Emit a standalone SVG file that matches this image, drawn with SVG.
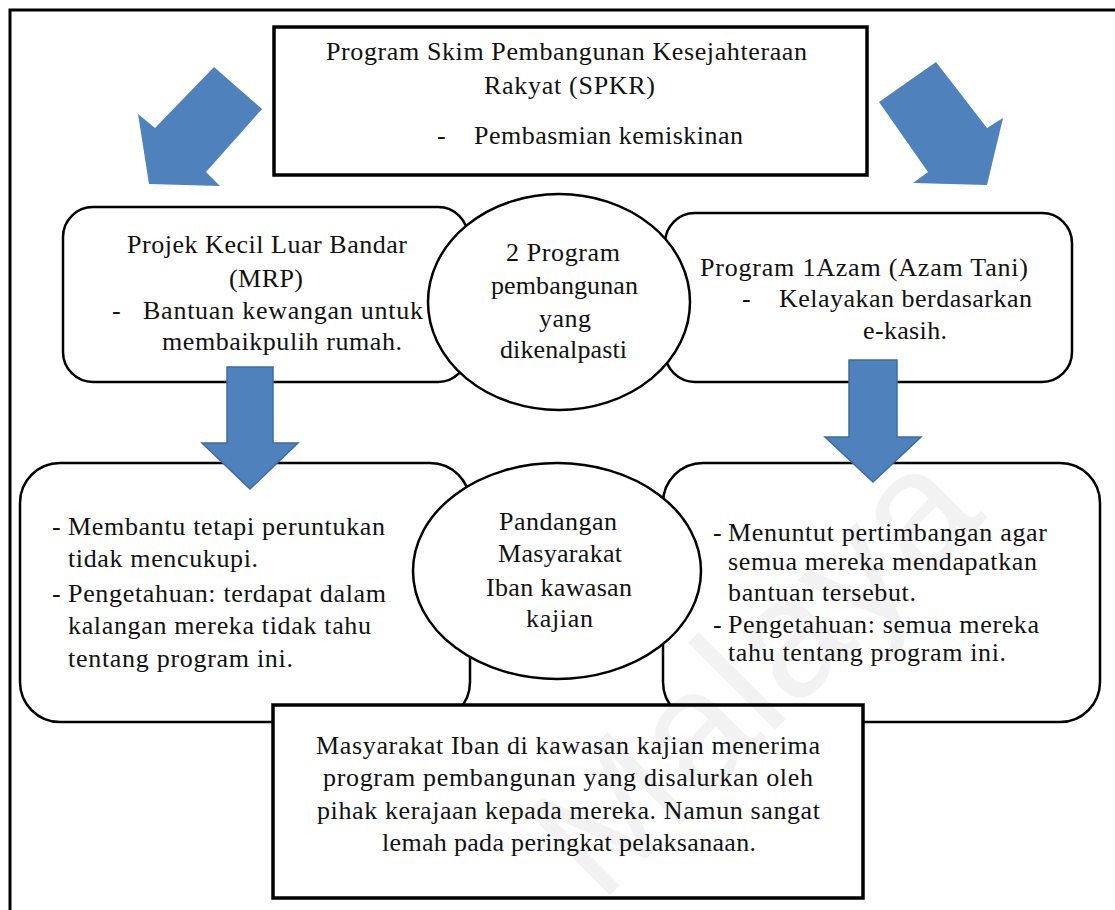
<svg xmlns="http://www.w3.org/2000/svg" width="1115" height="910" viewBox="0 0 1115 910">
<style>
.frame{fill:none;stroke:#000;stroke-width:3}
.box{fill:#fff;stroke:#000;stroke-width:3.5}
.rbox{fill:#fff;stroke:#000;stroke-width:2.5}
.ell{fill:#fff;stroke:#000;stroke-width:2.5}
.blk{fill:#4F81BD}
.darr{fill:#4F81BD;stroke:#3E6C9F;stroke-width:1.5}
.t{font-family:'Liberation Serif',serif;font-size:26px;fill:#111}
.wm{font-family:'Liberation Sans',sans-serif;font-size:170px;fill:#000;fill-opacity:0.05}
</style>
<rect width="1115" height="910" fill="#fff"/>
<g id="frame">
<path class="frame" d="M10,910 V10 H1115"/>
</g>
<g id="connectors">
<polygon class="blk" points="214,67 262,109 206,172 220,186 149,184 138,114 155,128"/>
<polygon class="blk" points="936,62 987,128 1003,118 987,185 913,183 928,172 879,102"/>
</g>
<g id="node-spkr" class="t" font-family="Liberation Serif, serif">
<rect class="box" x="274" y="27" width="593" height="148"/>
<text x="326" y="60" textLength="481" lengthAdjust="spacing">Program Skim Pembangunan Kesejahteraan</text>
<text x="484" y="94" textLength="171" lengthAdjust="spacing">Rakyat (SPKR)</text>
<text x="437" y="144">-</text>
<text x="474" y="144" textLength="269" lengthAdjust="spacing">Pembasmian kemiskinan</text>
</g>
<g id="node-mrp" class="t" font-family="Liberation Serif, serif">
<rect class="rbox" x="63" y="207" width="405" height="175" rx="30"/>
<text x="127" y="253" textLength="280" lengthAdjust="spacing">Projek Kecil Luar Bandar</text>
<text x="229" y="287" textLength="74" lengthAdjust="spacing">(MRP)</text>
<text x="112" y="319">-</text>
<text x="143" y="319" textLength="280" lengthAdjust="spacing">Bantuan kewangan untuk</text>
<text x="162" y="350" textLength="240" lengthAdjust="spacing">membaikpulih rumah.</text>
</g>
<g id="node-azam" class="t" font-family="Liberation Serif, serif">
<rect class="rbox" x="665" y="213" width="407" height="169" rx="30"/>
<text x="700" y="276" textLength="328" lengthAdjust="spacing">Program 1Azam (Azam Tani)</text>
<text x="742" y="307">-</text>
<text x="779" y="307" textLength="253" lengthAdjust="spacing">Kelayakan berdasarkan</text>
<text x="863" y="339" textLength="84" lengthAdjust="spacing">e-kasih.</text>
</g>
<g id="node-program" class="t" font-family="Liberation Serif, serif">
<ellipse class="ell" cx="559" cy="302" rx="131" ry="108"/>
<text x="506" y="261" textLength="114" lengthAdjust="spacing">2 Program</text>
<text x="491" y="294" textLength="147" lengthAdjust="spacing">pembangunan</text>
<text x="539" y="327" textLength="52" lengthAdjust="spacing">yang</text>
<text x="500" y="358" textLength="127" lengthAdjust="spacing">dikenalpasti</text>
</g>
<g id="node-left" class="t" font-family="Liberation Serif, serif">
<rect class="rbox" x="20" y="463" width="450" height="259" rx="40"/>
<text x="52" y="535">-</text>
<text x="68" y="535" textLength="317" lengthAdjust="spacing">Membantu tetapi peruntukan</text>
<text x="68" y="567" textLength="190" lengthAdjust="spacing">tidak mencukupi.</text>
<text x="52" y="602">-</text>
<text x="68" y="602" textLength="318" lengthAdjust="spacing">Pengetahuan: terdapat dalam</text>
<text x="68" y="634" textLength="303" lengthAdjust="spacing">kalangan mereka tidak tahu</text>
<text x="68" y="667" textLength="225" lengthAdjust="spacing">tentang program ini.</text>
</g>
<g id="node-right" class="t" font-family="Liberation Serif, serif">
<rect class="rbox" x="663" y="463" width="437" height="259" rx="40"/>
<text x="713" y="541">-</text>
<text x="728" y="541" textLength="319" lengthAdjust="spacing">Menuntut pertimbangan agar</text>
<text x="728" y="570" textLength="309" lengthAdjust="spacing">semua mereka mendapatkan</text>
<text x="728" y="601" textLength="188" lengthAdjust="spacing">bantuan tersebut.</text>
<text x="713" y="633">-</text>
<text x="728" y="633" textLength="311" lengthAdjust="spacing">Pengetahuan: semua mereka</text>
<text x="728" y="661" textLength="278" lengthAdjust="spacing">tahu tentang program ini.</text>
</g>
<g id="node-pandangan" class="t" font-family="Liberation Serif, serif">
<ellipse class="ell" cx="557" cy="571" rx="144" ry="108"/>
<text x="499" y="530" textLength="118" lengthAdjust="spacing">Pandangan</text>
<text x="498" y="562" textLength="124" lengthAdjust="spacing">Masyarakat</text>
<text x="486" y="596" textLength="146" lengthAdjust="spacing">Iban kawasan</text>
<text x="526" y="627" textLength="67" lengthAdjust="spacing">kajian</text>
</g>
<g id="connectors-down">
<polygon class="darr" points="227,367 273,367 273,443 298,443 250,489 202,443 227,443"/>
<polygon class="darr" points="849,360 897,360 897,437 921,437 873,482 825,437 849,437"/>
</g>
<g id="node-conclusion" class="t" font-family="Liberation Serif, serif">
<rect class="box" x="273" y="705" width="590" height="193" stroke-width="3"/>
<text x="316" y="754" textLength="504" lengthAdjust="spacing">Masyarakat Iban di kawasan kajian menerima</text>
<text x="323" y="786" textLength="490" lengthAdjust="spacing">program pembangunan yang disalurkan oleh</text>
<text x="317" y="819" textLength="503" lengthAdjust="spacing">pihak kerajaan kepada mereka. Namun sangat</text>
<text x="382" y="851" textLength="374" lengthAdjust="spacing">lemah pada peringkat pelaksanaan.</text>
</g>
<text class="wm" transform="translate(600,905) rotate(-45)">Malaya</text>
</svg>
